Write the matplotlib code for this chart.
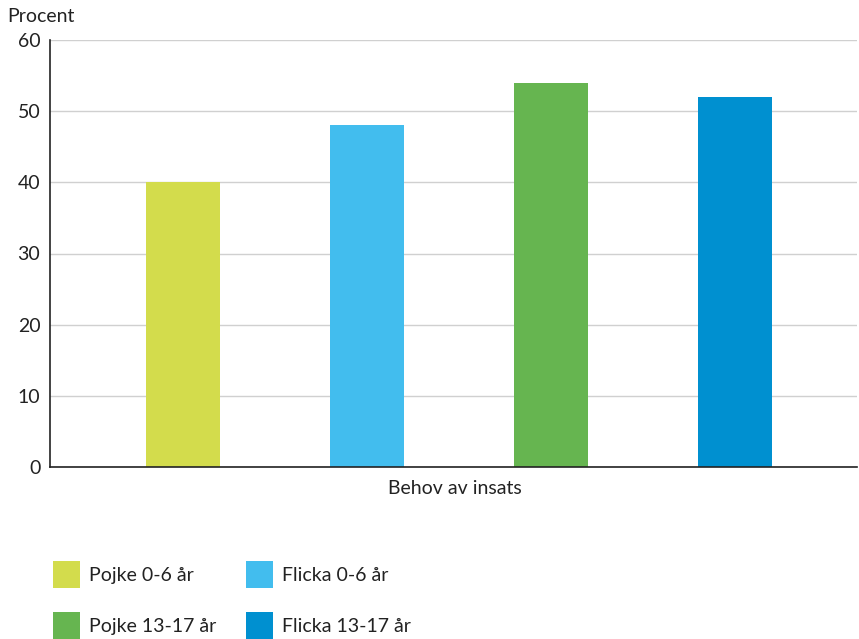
import matplotlib
matplotlib.use("Agg")
import matplotlib.pyplot as plt
from matplotlib.patches import Patch

plt.rcParams['font.family'] = ['Lato', 'DejaVu Sans']

# Data
category = "Behov av insats"
series = ["Pojke 0-6 år", "Flicka 0-6 år", "Pojke 13-17 år", "Flicka 13-17 år"]
values = [40, 48, 54, 52]
colors = ["#d3dc4c", "#42bdee", "#66b550", "#0090d0"]
yticks = [0, 10, 20, 30, 40, 50, 60]

FS = 14

fig = plt.figure(figsize=(8.59, 6.39), dpi=100)
ax = fig.add_axes([50 / 859, 1 - 467 / 639, 807 / 859, 427 / 639])

xs = list(range(len(values)))
ax.bar(xs, values, width=0.40, color=colors, zorder=3)

ax.set_ylim(0, 60)
ax.set_xlim(-0.723, 3.663)
ax.set_yticks(yticks)
ax.set_xticks([1.48])
ax.set_xticklabels([category])
ax.tick_params(axis='both', length=0, labelsize=FS, colors='#222222')
ax.tick_params(axis='y', pad=7)
ax.tick_params(axis='x', pad=9)
ax.yaxis.grid(True, color='#d0d0d0', linewidth=1, zorder=0)
for s in ['top', 'right']:
    ax.spines[s].set_visible(False)
for s in ['left', 'bottom']:
    ax.spines[s].set_color('#222222')
    ax.spines[s].set_linewidth(1.2)
    ax.spines[s].set_zorder(4)

fig.text(7 / 859, 1 - 16 / 639, "Procent", fontsize=FS, color='#222222',
         va='center', ha='left')

# legend, row-major order over two columns
order = [0, 2, 1, 3]
handles = [Patch(facecolor=colors[i], edgecolor='none') for i in order]
labels = [series[i] for i in order]
fig.legend(handles, labels, ncol=2, loc='upper left',
           bbox_to_anchor=(53 / 859, 1 - 561 / 639), frameon=False,
           borderpad=0, borderaxespad=0,
           fontsize=FS, handlelength=1.39, handleheight=1.76,
           handletextpad=0.46, labelspacing=1.23, columnspacing=1.55,
           labelcolor='#222222')

fig.savefig("out.png", dpi=100, facecolor='white')
